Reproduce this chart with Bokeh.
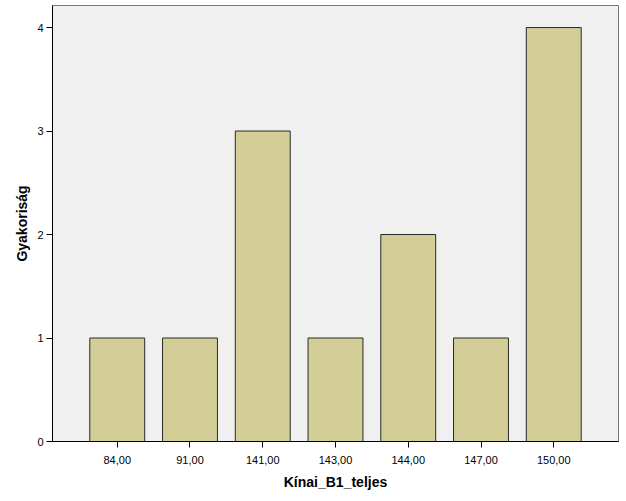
from bokeh.plotting import figure
from bokeh.models import FactorRange, Range1d, FixedTicker, ColumnDataSource
from bokeh.embed import file_html
from bokeh.resources import INLINE

categories = ["84,00", "91,00", "141,00", "143,00", "144,00", "147,00", "150,00"]
counts = [1, 1, 3, 1, 2, 1, 4]
y_ticks = [0, 1, 2, 3, 4]

src = ColumnDataSource(dict(cat=categories, count=counts))

p = figure(frame_width=566, frame_height=436, output_backend="svg", toolbar_location=None,
           x_range=FactorRange(factors=categories, range_padding=0.39,
                               range_padding_units="absolute"),
           y_range=Range1d(0, 4.213),
           min_border_left=52, min_border_right=3, min_border_top=5,
           min_border_bottom=48)

p.vbar(x="cat", top="count", bottom=0, width=0.755, source=src,
       fill_color="#D3CE97", line_color="#2A2A2A", line_width=1)

p.background_fill_color = "#F0F0F0"
p.border_fill_color = "white"
p.outline_line_color = "#777777"
p.outline_line_width = 1
p.xgrid.visible = False
p.ygrid.visible = False

font = "Liberation Sans"
for ax in (p.xaxis[0], p.yaxis[0]):
    ax.axis_line_color = "black"
    ax.major_tick_line_color = "black"
    ax.minor_tick_line_color = None
    ax.major_tick_in = 0
    ax.major_tick_out = 6
    ax.major_label_text_font = font
    ax.major_label_text_font_size = "11px"
    ax.major_label_text_color = "black"
    ax.axis_label_text_font = font
    ax.axis_label_text_font_size = "14px"
    ax.axis_label_text_font_style = "bold"
    ax.axis_label_text_color = "black"

p.yaxis.ticker = FixedTicker(ticks=y_ticks)
p.yaxis.major_label_standoff = 3
p.xaxis.major_label_standoff = 8
p.yaxis.axis_label = "Gyakoriság"
p.xaxis.axis_label = "Kínai_B1_teljes"
p.xaxis.axis_label_standoff = 7
p.yaxis.axis_label_standoff = 4

open("out.html", "w").write(file_html(p, INLINE))
